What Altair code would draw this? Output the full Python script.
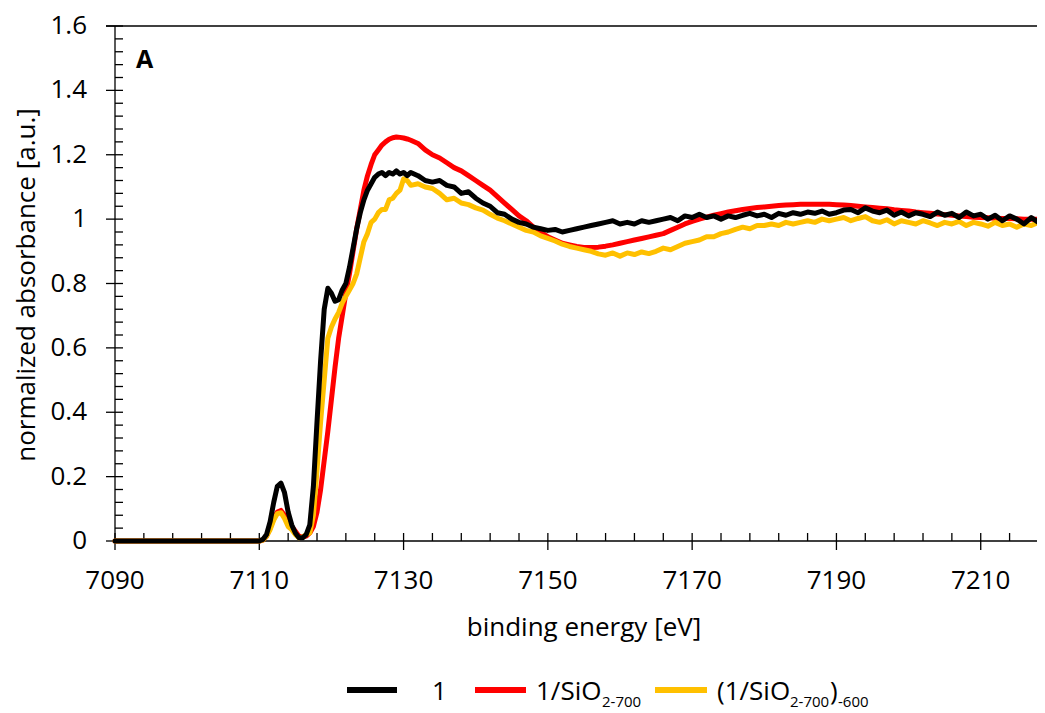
import altair as alt
import pandas as pd

# ---------------- data ----------------
E_PRE = [7090]
E_EDGE = [7110 + 0.5 * i for i in range(43)]          # 7110 ... 7131 (0.5 eV)
E_POST = list(range(7132, 7220))                       # 7132 ... 7219 (1 eV)
ENERGY = E_PRE + E_EDGE + E_POST

S1 = [0.0] + [
    0, 0.005, 0.02, 0.06, 0.12, 0.17, 0.18, 0.15, 0.09, 0.05,
    0.025, 0.01, 0.01, 0.02, 0.05, 0.17, 0.37, 0.56, 0.72, 0.785,
    0.77, 0.745, 0.75, 0.78, 0.80, 0.85, 0.91, 0.97, 1.02, 1.06,
    1.09, 1.11, 1.13, 1.14, 1.145, 1.135, 1.145, 1.14, 1.15, 1.14,
    1.145, 1.135, 1.145,
] + [
    1.135, 1.12, 1.115, 1.12, 1.105, 1.10, 1.08, 1.085, 1.065, 1.05,
    1.04, 1.02, 1.015, 1.0, 0.99, 0.985, 0.975, 0.97, 0.965, 0.968,
    0.96, 0.965, 0.97, 0.975, 0.98, 0.985, 0.99, 0.995, 0.985, 0.99,
    0.985, 0.995, 0.99, 0.995, 1.0, 1.005, 0.995, 1.01, 1.005, 1.015,
    1.005, 1.01, 1.0, 1.01, 1.005, 1.012, 1.018, 1.01, 1.015, 1.005,
    1.018, 1.012, 1.02, 1.015, 1.022, 1.018, 1.025, 1.015, 1.02, 1.028,
    1.03, 1.02, 1.035, 1.025, 1.02, 1.028, 1.012, 1.022, 1.01, 1.02,
    1.015, 1.008, 1.022, 1.012, 1.018, 1.005, 1.022, 1.01, 1.015, 1.0,
    1.012, 0.995, 1.01, 1.0, 0.985, 1.005, 0.99, 0.985,
]

S2 = [0.0] + [
    0, 0.003, 0.015, 0.04, 0.07, 0.09, 0.095, 0.08, 0.055, 0.045,
    0.03, 0.015, 0.012, 0.015, 0.025, 0.045, 0.09, 0.16, 0.25, 0.34,
    0.44, 0.54, 0.63, 0.70, 0.77, 0.83, 0.90, 0.97, 1.03, 1.09,
    1.135, 1.17, 1.20, 1.215, 1.23, 1.24, 1.248, 1.253, 1.255, 1.254,
    1.252, 1.249, 1.245,
] + [
    1.235, 1.215, 1.20, 1.19, 1.175, 1.16, 1.15, 1.135, 1.12, 1.105,
    1.09, 1.07, 1.05, 1.03, 1.01, 0.995, 0.975, 0.96, 0.945, 0.935,
    0.925, 0.92, 0.915, 0.912, 0.912, 0.913, 0.916, 0.92, 0.925, 0.93,
    0.935, 0.94, 0.945, 0.95, 0.955, 0.965, 0.975, 0.985, 0.993, 1.0,
    1.006, 1.012, 1.017, 1.022, 1.026, 1.03, 1.033, 1.036, 1.038, 1.04,
    1.042, 1.044, 1.045, 1.046, 1.046, 1.046, 1.046, 1.046, 1.045, 1.044,
    1.042, 1.04, 1.038, 1.036, 1.034, 1.032, 1.029, 1.027, 1.025, 1.022,
    1.02, 1.018, 1.016, 1.014, 1.012, 1.01, 1.008, 1.006, 1.005, 1.004,
    1.003, 1.002, 1.002, 1.001, 1.0, 1.0, 1.0, 0.998,
]

S3 = [0.0] + [
    0, 0.003, 0.015, 0.035, 0.065, 0.085, 0.088, 0.07, 0.045, 0.035,
    0.02, 0.01, 0.012, 0.02, 0.025, 0.08, 0.22, 0.37, 0.50, 0.63,
    0.665, 0.69, 0.71, 0.74, 0.76, 0.78, 0.80, 0.83, 0.88, 0.93,
    0.955, 0.99, 1.0, 1.02, 1.03, 1.03, 1.06, 1.065, 1.08, 1.09,
    1.125, 1.12, 1.105,
] + [
    1.11, 1.10, 1.095, 1.08, 1.06, 1.065, 1.05, 1.045, 1.035, 1.028,
    1.015, 1.003, 0.995, 0.985, 0.975, 0.965, 0.96, 0.948, 0.94, 0.932,
    0.922, 0.915, 0.91, 0.905, 0.9, 0.892, 0.888, 0.895, 0.885, 0.895,
    0.89, 0.898, 0.893, 0.9, 0.91, 0.905, 0.915, 0.925, 0.93, 0.935,
    0.945, 0.945, 0.955, 0.96, 0.968, 0.975, 0.97, 0.98, 0.98, 0.985,
    0.98, 0.99, 0.985, 0.99, 0.995, 0.99, 1.0, 0.995, 1.0, 1.005,
    0.995, 1.002, 1.008, 0.995, 0.99, 0.998, 0.985, 0.995, 0.99, 0.985,
    0.995, 0.988, 0.98, 0.99, 0.985, 0.993, 0.98, 0.99, 0.985, 0.978,
    0.99, 0.98, 0.985, 0.975, 0.985, 0.98, 0.99, 0.985,
]

X_MAJOR = [7090, 7110, 7130, 7150, 7170, 7190, 7210]
X_MINOR = [v for v in range(7094, 7219, 4) if v not in X_MAJOR]
Y_MAJOR = [0, 0.2, 0.4, 0.6, 0.8, 1.0, 1.2, 1.4, 1.6]
Y_MINOR = [round(0.04 * i, 2) for i in range(41) if i % 5 != 0]

X_TITLE = "binding energy [eV]"
Y_TITLE = "normalized absorbance [a.u.]"

X_DOMAIN = [7090, 7217.8]
Y_DOMAIN = [0, 1.6]

W, H = 922, 515
FONT = "Open Sans"
FS = 26

xs = alt.Scale(domain=X_DOMAIN, nice=False, zero=False)
ys = alt.Scale(domain=Y_DOMAIN, nice=False)


def series(values, color):
    df = pd.DataFrame({"E": ENERGY, "A": values})
    return alt.Chart(df).mark_line(color=color, strokeWidth=5,
                                   strokeJoin="round", strokeCap="round").encode(
        x=alt.X("E:Q", scale=xs, axis=None),
        y=alt.Y("A:Q", scale=ys, axis=None),
    )


def xticks(vals, y1, y2):
    return alt.Chart(pd.DataFrame({"v": vals})).mark_rule(color="black", strokeWidth=1.3).encode(
        x=alt.X("v:Q", scale=xs, axis=None), y=alt.value(y1), y2=alt.value(y2))


def yticks(vals, x1, x2):
    return alt.Chart(pd.DataFrame({"v": vals})).mark_rule(color="black", strokeWidth=1.3).encode(
        y=alt.Y("v:Q", scale=ys, axis=None), x=alt.value(x1), x2=alt.value(x2))


x_labels = alt.Chart(pd.DataFrame({"v": X_MAJOR})).mark_text(
    font=FONT, fontSize=FS, color="black", align="center", baseline="alphabetic").encode(
    x=alt.X("v:Q", scale=xs, axis=None), y=alt.value(H + 48),
    text=alt.Text("v:Q", format="d"))

y_labels = alt.Chart(pd.DataFrame({"v": Y_MAJOR})).mark_text(
    font=FONT, fontSize=FS, color="black", align="right", baseline="middle").encode(
    y=alt.Y("v:Q", scale=ys, axis=None), x=alt.value(-28),
    text=alt.Text("v:Q", format=".1~f"))

ONE = pd.DataFrame({"k": [0]})


def label(text, x, y, size=FS, weight="normal", align="left", angle=0):
    return alt.Chart(ONE).mark_text(text=text, font=FONT, fontSize=size, fontWeight=weight,
                                    align=align, baseline="alphabetic", color="black",
                                    angle=angle).encode(
        x=alt.value(x), y=alt.value(y))


def swatch(color, x1, x2, y):
    return alt.Chart(ONE).mark_rule(color=color, strokeWidth=6).encode(
        x=alt.value(x1), x2=alt.value(x2), y=alt.value(y))


def hline(x1, x2, y):
    return alt.Chart(ONE).mark_rule(color="black", strokeWidth=1.3).encode(
        x=alt.value(x1), x2=alt.value(x2), y=alt.value(y))


def vline(x, y1, y2):
    return alt.Chart(ONE).mark_rule(color="black", strokeWidth=1.3).encode(
        x=alt.value(x), y=alt.value(y1), y2=alt.value(y2))


layers = [
    hline(-9, W, 0),          # top border
    hline(0, W, H),           # x axis line
    vline(0, 0, H),           # y axis line
    xticks(X_MAJOR, H - 8, H + 9),
    xticks(X_MINOR, H - 8, H),
    yticks(Y_MAJOR, -9, 8),
    yticks(Y_MINOR, 0, 8),
    series(S2, "#FF0000"),
    series(S3, "#FFC000"),
    series(S1, "#000000"),
    x_labels,
    y_labels,
    label(X_TITLE, 469, H + 95, align="center"),
    label(Y_TITLE, -80, 259, align="center", angle=270),
    label("A", 21, 42, size=25, weight="bold"),
    # legend
    swatch("#000000", 232, 282, 664),
    label("1", 317, 674),
    swatch("#FF0000", 360, 411, 664),
    label("1/SiO", 421, 674),
    label("2-700", 487, 681, size=15),
    swatch("#FFC000", 540, 592, 664),
    label("(1/SiO", 602, 674),
    label("2-700", 675, 681, size=15),
    label(")", 715, 674),
    label("-600", 723, 681, size=15),
]

chart = alt.layer(*layers).properties(
    width=W, height=H,
    autosize=alt.AutoSizeParams(type="none"),
    padding={"left": 107, "top": 18, "right": 0, "bottom": 172},
    background="white",
).configure_view(stroke=None)

chart.save("out.html", embed_options={"renderer": "svg", "actions": False})
